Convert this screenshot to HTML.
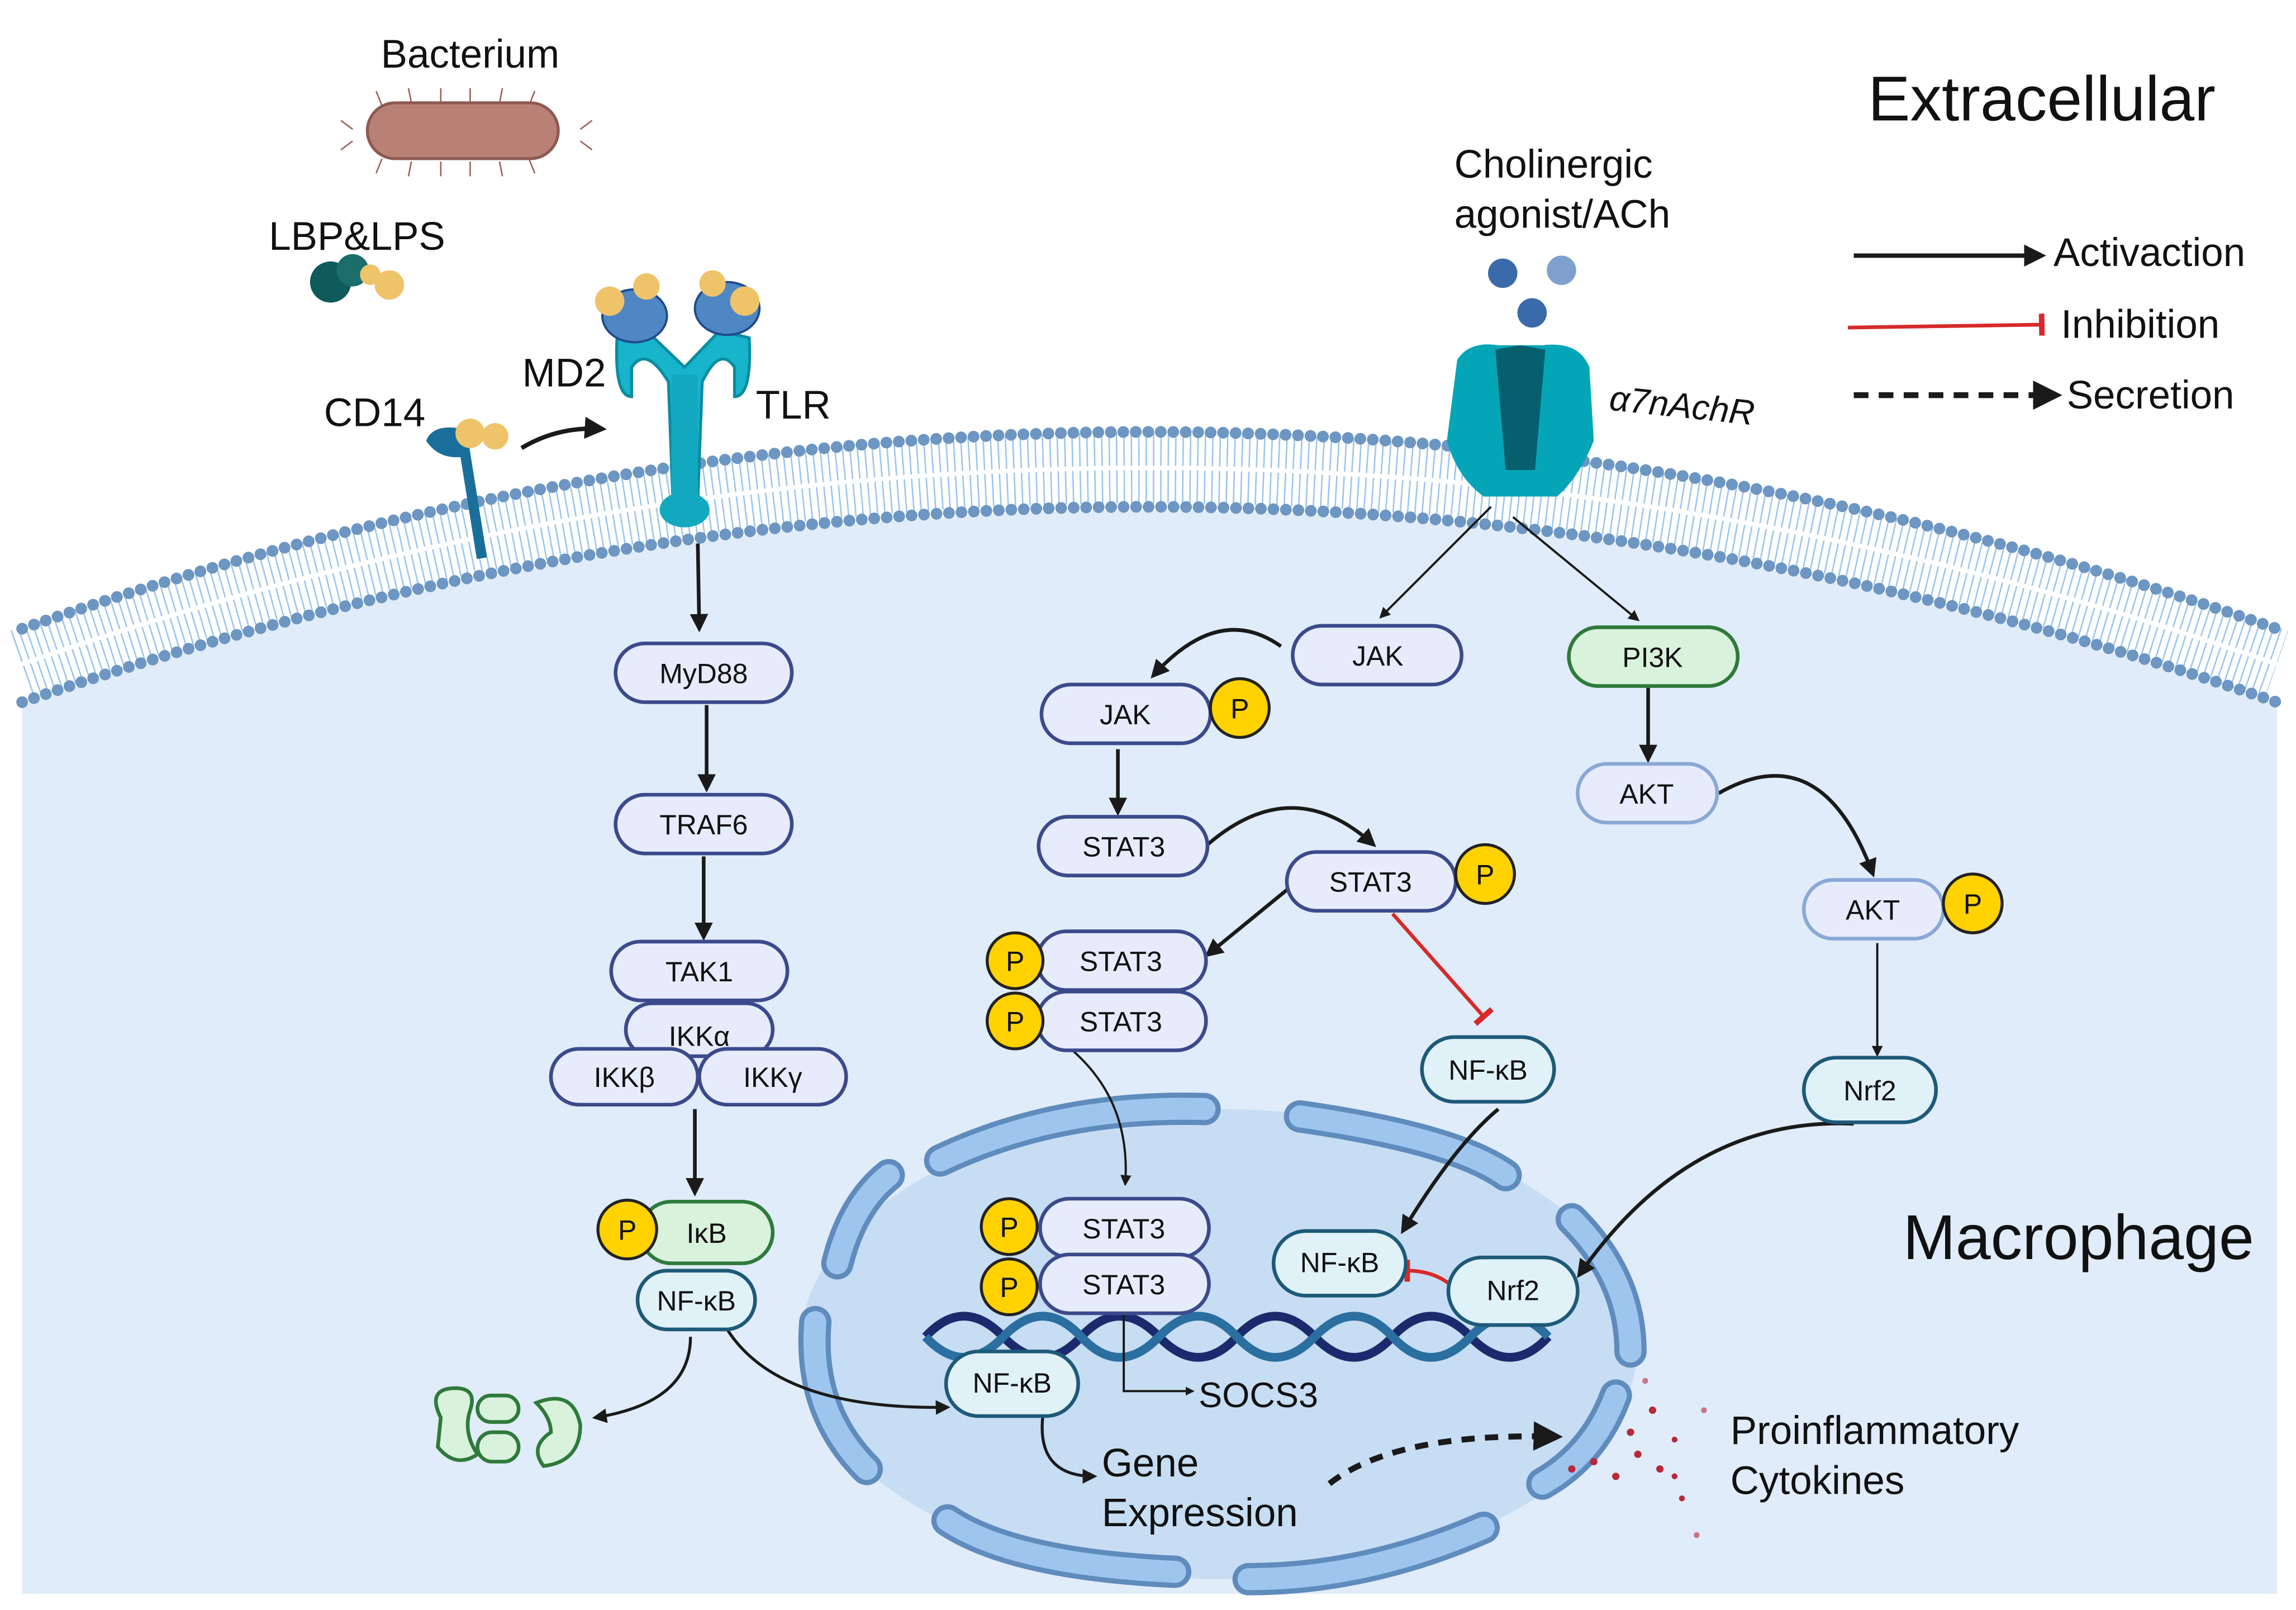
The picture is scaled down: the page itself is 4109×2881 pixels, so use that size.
<!DOCTYPE html>
<html><head><meta charset="utf-8"><style>
html,body{margin:0;padding:0;background:#fff}
svg{display:block}
text{font-family:"Liberation Sans",sans-serif}
</style></head><body>
<svg width="4109" height="2881" viewBox="0 0 1563 1096" xmlns="http://www.w3.org/2000/svg">
<defs>
<marker id="a" viewBox="0 0 10 10" refX="8" refY="5" markerWidth="5" markerHeight="5" orient="auto"><path d="M0,0L10,5L0,10Z" fill="#1a1a1a"/></marker>
<marker id="a2" viewBox="0 0 10 10" refX="8" refY="5" markerWidth="4" markerHeight="4" orient="auto"><path d="M0,0L10,5L0,10Z" fill="#1a1a1a"/></marker>
<marker id="t" viewBox="0 0 10 10" refX="5" refY="5" markerWidth="6" markerHeight="6" orient="auto"><path d="M5,0L5,10" stroke="#d62a2a" stroke-width="2.5"/></marker>
</defs>
<rect width="1563" height="1096" fill="#fff"/>
<!-- cell -->
<path d="M15,480 Q782,215 1550,480 L1550,1085 L15,1085Z" fill="#e0ecf9"/>
<path d="M15,452 Q782,185 1550,452" fill="none" stroke="#9cc6ee" stroke-width="48" stroke-dasharray="1 4"/>
<path d="M15,452 Q782,185 1550,452" fill="none" stroke="#fff" stroke-width="3"/>
<path d="M15,428 Q782,160 1550,428" fill="none" stroke="#6d96c2" stroke-width="8" stroke-linecap="round" stroke-dasharray="0 8.5"/>
<path d="M15,478 Q782,212 1550,478" fill="none" stroke="#6d96c2" stroke-width="8" stroke-linecap="round" stroke-dasharray="0 8.5"/>
<!-- nucleus -->
<ellipse cx="830" cy="915" rx="285" ry="160" fill="#c7ddf3"/>
<g fill="none" stroke-linecap="round">
<g stroke="#5f8bbd" stroke-width="22">
<path d="M640,790 Q720,752 820,755"/><path d="M885,760 Q990,775 1025,800"/><path d="M1070,830 Q1110,870 1110,920"/>
<path d="M1100,950 Q1085,990 1050,1010"/><path d="M1010,1040 Q930,1075 850,1075"/><path d="M800,1070 Q690,1065 645,1035"/>
<path d="M590,1000 Q550,960 555,900"/><path d="M570,860 Q580,820 605,800"/></g>
<g stroke="#9ec5ee" stroke-width="15">
<path d="M640,790 Q720,752 820,755"/><path d="M885,760 Q990,775 1025,800"/><path d="M1070,830 Q1110,870 1110,920"/>
<path d="M1100,950 Q1085,990 1050,1010"/><path d="M1010,1040 Q930,1075 850,1075"/><path d="M800,1070 Q690,1065 645,1035"/>
<path d="M590,1000 Q550,960 555,900"/><path d="M570,860 Q580,820 605,800"/></g>
</g>
<!-- DNA -->
<path d="M630,910 q26,-28 53,0 t53,0 t53,0 t53,0 t53,0 t53,0 t53,0 t53,0" fill="none" stroke="#1a2a6c" stroke-width="6"/>
<path d="M630,910 q26,28 53,0 t53,0 t53,0 t53,0 t53,0 t53,0 t53,0 t53,0" fill="none" stroke="#2a6fa0" stroke-width="6"/>
<!-- bacterium -->
<g stroke="#a0605a" stroke-width="1">
<path d="M240,88 l-8,-6 M240,96 l-8,6 M395,88 l8,-6 M395,96 l8,6 M260,72 l-4,-10 M280,70 l-2,-10 M300,70 l0,-10 M320,70 l0,-10 M340,70 l2,-10 M360,72 l4,-10 M260,108 l-4,10 M280,110 l-2,10 M300,110 l0,10 M320,110 l0,10 M340,110 l2,10 M360,108 l4,10"/></g>
<rect x="250" y="70" width="130" height="38" rx="19" fill="#b98175" stroke="#8d5a52" stroke-width="2"/>
<!-- LBP -->
<circle cx="225" cy="192" r="14" fill="#0f5a5a"/><circle cx="240" cy="184" r="11" fill="#1b6e6a"/><circle cx="265" cy="194" r="10" fill="#efc36a"/><circle cx="252" cy="187" r="7" fill="#efc36a"/>
<!-- CD14 -->
<path d="M316,305 L328,380" stroke="#1a6f9a" stroke-width="7"/>
<path d="M290,300 Q295,288 315,292 L320,310 Q300,315 290,300Z" fill="#1a6f9a"/>
<circle cx="320" cy="295" r="10" fill="#efc36a"/><circle cx="337" cy="297" r="9" fill="#efc36a"/>
<path d="M355,305 Q380,290 410,292" fill="none" stroke="#1a1a1a" stroke-width="3" marker-end="url(#a)"/>
<!-- TLR -->
<g>
<path d="M420,230 Q418,270 430,270 L430,250 Q440,235 455,260 L458,340 L475,340 L478,260 Q490,235 500,250 L500,270 Q512,270 510,230 L490,225 L466,250 L440,225Z" fill="#17b4cc" stroke="#0a8ca0" stroke-width="2"/>
<rect x="457" y="255" width="18" height="90" fill="#12a9c0"/>
<ellipse cx="466" cy="347" rx="17" ry="12" fill="#12a9c0"/>
<ellipse cx="432" cy="215" rx="22" ry="18" fill="#4f86c4" stroke="#1f4a8a" stroke-width="1.5"/>
<ellipse cx="495" cy="210" rx="22" ry="18" fill="#4f86c4" stroke="#1f4a8a" stroke-width="1.5"/>
<circle cx="415" cy="205" r="10" fill="#efc36a"/><circle cx="440" cy="195" r="9" fill="#efc36a"/>
<circle cx="485" cy="193" r="9" fill="#efc36a"/><circle cx="507" cy="205" r="10" fill="#efc36a"/>
</g>
<!-- a7nAChR -->
<path d="M992,245 Q1000,232 1020,235 L1050,235 Q1075,232 1082,250 L1085,300 Q1075,325 1060,338 L1010,338 Q992,325 985,300Z" fill="#05a5b8"/>
<path d="M1018,238 L1035,235 L1052,238 L1045,320 L1025,320Z" fill="#065f6d"/>
<circle cx="1023" cy="186" r="10" fill="#3b6aaa"/><circle cx="1063" cy="184" r="10" fill="#7f9fcc"/><circle cx="1043" cy="213" r="10" fill="#3b6aaa"/>
<!-- texts -->
<g font-size="27" fill="#111">
<text x="320" y="46" text-anchor="middle">Bacterium</text>
<text x="243" y="170" text-anchor="middle">LBP&amp;LPS</text>
<text x="255" y="290" text-anchor="middle">CD14</text>
<text x="384" y="263" text-anchor="middle">MD2</text>
<text x="540" y="285" text-anchor="middle">TLR</text>
<text x="990" y="121">Cholinergic</text>
<text x="990" y="155">agonist/ACh</text>
<text x="1095" y="279" font-style="italic" font-size="24" transform="rotate(6 1095 279)">α7nAchR</text>
<text x="1390" y="82" text-anchor="middle" font-size="43">Extracellular</text>
<text x="1415" y="857" text-anchor="middle" font-size="43">Macrophage</text>
<text x="1398" y="181">Activaction</text>
<text x="1403" y="230">Inhibition</text>
<text x="1407" y="278">Secretion</text>
<text x="816" y="958" font-size="24">SOCS3</text>
<text x="750" y="1005">Gene</text>
<text x="750" y="1039">Expression</text>
<text x="1178" y="983">Proinflammatory</text>
<text x="1178" y="1017">Cytokines</text>
</g>
<!-- legend -->
<path d="M1262,174 L1390,174" stroke="#1a1a1a" stroke-width="3" marker-end="url(#a)"/>
<path d="M1258,223 L1390,221" stroke="#d62a2a" stroke-width="2.5" marker-end="url(#t)"/>
<path d="M1262,269 L1400,269" stroke="#1a1a1a" stroke-width="4" stroke-dasharray="10 7" marker-end="url(#a)"/>
<!-- arrows -->
<g fill="none" stroke="#1a1a1a" stroke-width="2.5">
<path d="M475,370 L476,428" marker-end="url(#a)"/>
<path d="M481,480 L481,537" marker-end="url(#a)"/>
<path d="M479,583 L479,638" marker-end="url(#a)"/>
<path d="M473,755 L473,812" marker-end="url(#a)"/>
<path d="M1015,345 L940,420" stroke-width="1.5" marker-end="url(#a)"/>
<path d="M1030,352 L1115,422" stroke-width="1.5" marker-end="url(#a)"/>
<path d="M872,440 Q830,410 785,460" marker-end="url(#a)"/>
<path d="M761,510 L761,553" marker-end="url(#a)"/>
<path d="M822,575 Q880,525 935,575" marker-end="url(#a)"/>
<path d="M877,605 L822,650" marker-end="url(#a)"/>
<path d="M1122,467 L1122,517" marker-end="url(#a)"/>
<path d="M1170,540 Q1240,500 1275,595" marker-end="url(#a)"/>
<path d="M1278,642 L1278,718" stroke-width="1.5" marker-end="url(#a)"/>
<path d="M1262,765 Q1150,760 1075,868" marker-end="url(#a)"/>
<path d="M1020,755 Q990,780 955,838" marker-end="url(#a)"/>
<path d="M730,715 Q770,750 766,806" stroke-width="1.5" marker-end="url(#a)"/>
<path d="M470,910 Q470,955 405,965" stroke-width="2" marker-end="url(#a)"/>
<path d="M495,905 Q530,960 645,958" stroke-width="2" marker-end="url(#a)"/>
<path d="M710,963 Q705,1005 745,1005" stroke-width="2" marker-end="url(#a)"/>
<path d="M765,895 L765,947 L812,947" stroke-width="1.5" marker-end="url(#a2)"/>
<path d="M905,1010 Q950,975 1060,978" stroke-width="4" stroke-dasharray="9 7" marker-end="url(#a)"/>
</g>
<path d="M948,622 L1010,692" stroke="#d62a2a" stroke-width="2.5" marker-end="url(#t)"/>
<path d="M993,880 Q980,865 958,865" fill="none" stroke="#d62a2a" stroke-width="2.5" marker-end="url(#t)"/>
<!-- cytokines -->
<g fill="#b8283a"><circle cx="1070" cy="1000" r="2.5"/><circle cx="1085" cy="995" r="2.5"/><circle cx="1100" cy="1005" r="2.5"/><circle cx="1115" cy="990" r="2.5"/><circle cx="1130" cy="1000" r="2.5"/><circle cx="1110" cy="975" r="2.5"/><circle cx="1125" cy="960" r="2.5"/><circle cx="1140" cy="980" r="2"/><circle cx="1145" cy="1020" r="2"/><circle cx="1160" cy="960" r="2" opacity=".6"/><circle cx="1155" cy="1045" r="2" opacity=".6"/><circle cx="1120" cy="940" r="2" opacity=".6"/><circle cx="1140" cy="1005" r="2"/></g>
<!-- degraded IkB -->
<g fill="#d9f2dc" stroke="#2f7a3a" stroke-width="2.5">
<path d="M300,965 Q290,945 310,945 Q325,945 320,960 Q315,975 325,990 Q310,1000 298,985Z"/>
<rect x="325" y="950" width="28" height="18" rx="9"/><rect x="325" y="975" width="28" height="20" rx="10"/>
<path d="M365,955 Q390,945 395,970 Q395,995 370,998 Q360,985 375,975 Q375,965 365,955Z"/>
</g>
<!-- nodes -->
<g font-size="19" text-anchor="middle" fill="#111" stroke-width="2.5">
<g fill="#e6ecfb" stroke="#3c4a8c">
<rect x="419" y="438" width="120" height="40" rx="20"/>
<rect x="419" y="541" width="120" height="40" rx="20"/>
<rect x="426" y="683" width="100" height="36" rx="18"/>
<rect x="416" y="641" width="120" height="40" rx="20"/>
<rect x="375" y="714" width="100" height="38" rx="19"/>
<rect x="476" y="714" width="100" height="38" rx="19"/>
<rect x="880" y="426" width="115" height="40" rx="20"/>
<rect x="709" y="466" width="115" height="40" rx="20"/>
<rect x="707" y="556" width="115" height="40" rx="20"/>
<rect x="876" y="580" width="115" height="40" rx="20"/>
<rect x="706" y="634" width="115" height="40" rx="20"/>
<rect x="706" y="675" width="115" height="40" rx="20"/>
<rect x="708" y="816" width="115" height="40" rx="20"/>
<rect x="708" y="854" width="115" height="40" rx="20"/>
</g>
<g fill="#e6ecfb" stroke="#8aa8d6"><rect x="1074" y="520" width="95" height="40" rx="20"/><rect x="1228" y="599" width="95" height="40" rx="20"/></g>
<g fill="#d9f2dc" stroke="#2f7a3a"><rect x="1068" y="427" width="115" height="40" rx="20"/><rect x="436" y="818" width="90" height="42" rx="21"/></g>
<g fill="#e0f2f8" stroke="#1e5a78">
<rect x="434" y="865" width="80" height="40" rx="20"/>
<rect x="968" y="706" width="90" height="44" rx="22"/>
<rect x="1228" y="720" width="90" height="44" rx="22"/>
<rect x="867" y="838" width="90" height="44" rx="22"/>
<rect x="986" y="856" width="88" height="46" rx="23"/>
<rect x="644" y="920" width="90" height="44" rx="22"/>
</g>
<g fill="#ffd200" stroke="#222" stroke-width="2">
<circle cx="427" cy="837" r="20"/><circle cx="844" cy="482" r="20"/><circle cx="1011" cy="595" r="20"/>
<circle cx="691" cy="654" r="19"/><circle cx="691" cy="695" r="19"/><circle cx="1343" cy="615" r="20"/>
<circle cx="687" cy="835" r="19"/><circle cx="687" cy="876" r="19"/>
</g>
<g stroke="none">
<text x="479" y="465">MyD88</text><text x="479" y="568">TRAF6</text><text x="476" y="668">TAK1</text>
<text x="476" y="712">IKKα</text><text x="425" y="740">IKKβ</text><text x="526" y="740">IKKγ</text>
<text x="481" y="846">IκB</text><text x="474" y="892">NF-κB</text>
<text x="938" y="453">JAK</text><text x="766" y="493">JAK</text><text x="765" y="583">STAT3</text><text x="933" y="607">STAT3</text>
<text x="763" y="661">STAT3</text><text x="763" y="702">STAT3</text><text x="765" y="843">STAT3</text><text x="765" y="881">STAT3</text>
<text x="1013" y="735">NF-κB</text><text x="1125" y="454">PI3K</text><text x="1121" y="547">AKT</text><text x="1275" y="626">AKT</text>
<text x="1273" y="749">Nrf2</text><text x="912" y="866">NF-κB</text><text x="1030" y="885">Nrf2</text><text x="689" y="948">NF-κB</text>
<text x="427" y="844">P</text><text x="844" y="489">P</text><text x="1011" y="602">P</text><text x="691" y="661">P</text><text x="691" y="702">P</text>
<text x="1343" y="622">P</text><text x="687" y="842">P</text><text x="687" y="883">P</text>
</g>
</g>
</svg>
</body></html>
